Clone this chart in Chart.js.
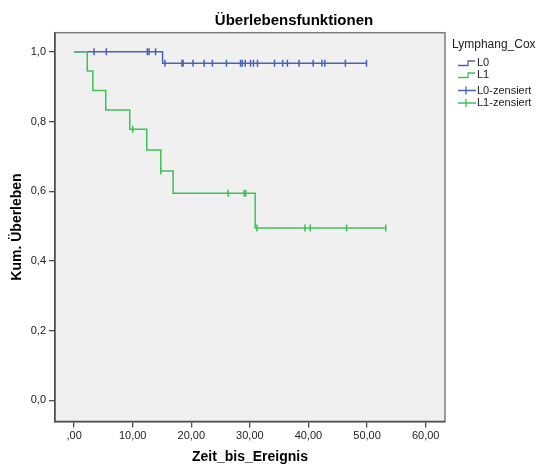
<!DOCTYPE html>
<html>
<head>
<meta charset="utf-8">
<script src="https://cdn.jsdelivr.net/npm/chart.js@4"></script>
<style>
  html, body { margin: 0; padding: 0; background: #ffffff; }
  #wrap { width: 541px; height: 466px; }
</style>
</head>
<body>
<div id="wrap"><canvas id="survivalChart" width="541" height="466"></canvas></div>
<script>
// Kaplan-Meier steps
const l0Times = [0, 15.1];
const l0Surv = [1, 0.967];
const l0Censored = [3.4, 5.5, 12.5, 12.8, 13.9, 15.5, 18.4, 18.6, 20.3, 22.2, 23.6, 26.0,
    28.4, 28.7, 29.2, 30.1, 30.6, 31.3, 34.2, 35.6, 36.4, 38.4, 40.8, 42.3, 42.8, 46.3, 49.9];

const l1Times = [0, 2.25, 3.2, 5.4, 9.5, 12.4, 14.8, 16.9, 30.9];
const l1Surv = [1, 0.945, 0.889, 0.833, 0.778, 0.718, 0.658, 0.594, 0.494];
const l1Censored = [10.0, 14.8, 26.3, 29.0, 29.3, 31.2, 39.4, 40.3, 46.5, 53.2];

const xTicks = [0, 10, 20, 30, 40, 50, 60];
const yTicks = [0, 0.2, 0.4, 0.6, 0.8, 1.0];

const legendTitle = "Lymphang_Cox";
const legendLabels = ["L0", "L1", "L0-zensiert", "L1-zensiert"];

const blue = "#4a62b2";
const green = "#3cc257";

function survAt(times, surv, t) {
    let s = surv[0];
    for (let i = 0; i < times.length; i++) {
        if (times[i] <= t) s = surv[i];
    }
    return s;
}

function stepLine(times, surv, censored) {
    const pts = times.map((t, i) => ({x: t, y: surv[i]}));
    const end = Math.max(...censored, ...times);
    pts.push({x: end, y: survAt(times, surv, end)});
    return pts;
}

function censorPoints(times, surv, censored) {
    return censored.map(t => ({x: t, y: survAt(times, surv, t)}));
}

function fmtX(v) {
    if (v === 0) return ",00";
    return v.toFixed(2).replace(".", ",");
}

Chart.defaults.font.family = "'Liberation Sans', Arial, sans-serif";
Chart.defaults.color = "#222";

const framePlugin = {
    id: "frame",
    beforeDraw(chart) {
        const a = chart.chartArea;
        const ctx = chart.ctx;
        ctx.save();
        ctx.fillStyle = "#f0f0f0";
        ctx.fillRect(a.left, a.top, a.right - a.left, a.bottom - a.top);
        ctx.strokeStyle = "#7d7d7d";
        ctx.lineWidth = 1.5;
        ctx.strokeRect(a.left, a.top, a.right - a.left, a.bottom - a.top);
        ctx.restore();
    },
    afterDraw(chart) {
        const ctx = chart.ctx;
        const a = chart.chartArea;
        ctx.save();
        ctx.fillStyle = "#000";
        ctx.textAlign = "center";
        ctx.textBaseline = "alphabetic";
        ctx.font = "bold 15px 'Liberation Sans', Arial, sans-serif";
        ctx.fillText("Überlebensfunktionen", 294, 25);

        ctx.font = "bold 14px 'Liberation Sans', Arial, sans-serif";
        ctx.textBaseline = "middle";
        ctx.fillText("Zeit_bis_Ereignis", (a.left + a.right) / 2, 457);
        ctx.save();
        ctx.translate(17.5, 227);
        ctx.rotate(-Math.PI / 2);
        ctx.fillText("Kum. Überleben", 0, 0);
        ctx.restore();

        // legend
        ctx.textAlign = "left";
        ctx.font = "12px 'Liberation Sans', Arial, sans-serif";
        ctx.fillStyle = "#222";
        ctx.fillText(legendTitle, 452, 45);
        ctx.font = "11px 'Liberation Sans', Arial, sans-serif";
        const rows = [63, 75, 90.5, 103];
        const cols = [blue, green, blue, green];
        legendLabels.forEach((lab, i) => {
            const y = rows[i];
            ctx.strokeStyle = cols[i];
            ctx.lineWidth = 1.3;
            ctx.beginPath();
            if (i < 2) {
                ctx.moveTo(458, y + 2.5);
                ctx.lineTo(468, y + 2.5);
                ctx.lineTo(468, y - 2);
                ctx.lineTo(475, y - 2);
            } else {
                ctx.moveTo(458, y);
                ctx.lineTo(476, y);
                ctx.moveTo(466, y - 4);
                ctx.lineTo(466, y + 4);
            }
            ctx.stroke();
            ctx.fillStyle = "#222";
            ctx.fillText(lab, 477, y);
        });
        ctx.restore();
    }
};

const ctx = document.getElementById("survivalChart").getContext("2d");
new Chart(ctx, {
    type: "scatter",
    data: {
        datasets: [
            {
                label: "L1-zensiert",
                data: censorPoints(l1Times, l1Surv, l1Censored),
                pointStyle: "line",
                rotation: 90,
                radius: 3.5,
                borderColor: green,
                borderWidth: 1.5,
                showLine: false
            },
            {
                label: "L0-zensiert",
                data: censorPoints(l0Times, l0Surv, l0Censored),
                pointStyle: "line",
                rotation: 90,
                radius: 3.5,
                borderColor: blue,
                borderWidth: 1.5,
                showLine: false
            },
            {
                label: "L1",
                data: stepLine(l1Times, l1Surv, l1Censored),
                showLine: true,
                stepped: true,
                borderColor: green,
                borderWidth: 1.5,
                pointRadius: 0
            },
            {
                label: "L0",
                data: stepLine(l0Times, l0Surv, l0Censored),
                showLine: true,
                stepped: true,
                borderColor: blue,
                borderWidth: 1.5,
                pointRadius: 0
            }
        ]
    },
    options: {
        responsive: false,
        animation: false,
        layout: {
            padding: {left: 0, top: 32.7, right: 96, bottom: 0}
        },
        plugins: {
            legend: {display: false},
            tooltip: {enabled: false}
        },
        scales: {
            x: {
                type: "linear",
                min: -3.26,
                max: 63.3,
                afterBuildTicks: scale => { scale.ticks = xTicks.map(v => ({value: v})); },
                afterFit: scale => { scale.height = 44.6; },
                ticks: {
                    callback: v => fmtX(v),
                    font: {size: 11},
                    padding: 2,
                    maxRotation: 0
                },
                grid: {
                    drawOnChartArea: false,
                    drawTicks: true,
                    tickLength: 6,
                    color: "#4d4d4d",
                    lineWidth: 1.3
                },
                border: {color: "#4d4d4d", width: 1.5}
            },
            y: {
                min: -0.061,
                max: 1.055,
                afterBuildTicks: scale => { scale.ticks = yTicks.map(v => ({value: v})); },
                afterFit: scale => { scale.width = 55; },
                ticks: {
                    callback: v => v.toFixed(1).replace(".", ","),
                    font: {size: 11},
                    padding: 3
                },
                grid: {
                    drawOnChartArea: false,
                    drawTicks: true,
                    tickLength: 6,
                    color: "#4d4d4d",
                    lineWidth: 1.3
                },
                border: {color: "#4d4d4d", width: 1.5}
            }
        }
    },
    plugins: [framePlugin]
});
</script>
</body>
</html>
